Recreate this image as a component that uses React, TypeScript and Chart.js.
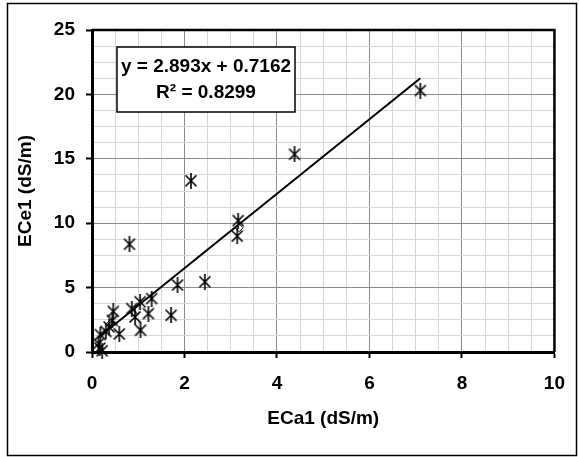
import React, { useEffect, useRef } from 'react';
import { Chart, registerables } from 'chart.js';

Chart.register(...registerables);

// ---- data ----
const ecaValues = [0.14, 0.17, 0.18, 0.22, 0.3, 0.37, 0.44, 0.46, 0.59, 0.81, 0.86, 0.93, 1.04, 1.05, 1.22, 1.29, 1.71, 1.85, 2.14, 2.44, 3.14, 3.16, 4.38, 7.1];
const eceValues = [0.65, 0.3, 1.35, 0.1, 1.6, 1.95, 2.45, 3.15, 1.4, 8.37, 3.37, 2.72, 3.9, 1.69, 2.98, 4.15, 2.85, 5.2, 13.3, 5.45, 9.0, 10.2, 15.35, 20.3];
const diamondX = [0.4, 3.18];
const diamondY = [2.2, 9.65];
const trendSlope = 2.893;
const trendIntercept = 0.7162;
const trendXRange = [0.14, 7.1];
const equationLines = ['y = 2.893x + 0.7162', 'R² = 0.8299'];
const xTitle = 'ECa1 (dS/m)';
const yTitle = 'ECe1 (dS/m)';
const xMin = 0, xMax = 10, xMinorStep = 0.5, xMajorStep = 2;
const yMin = 0, yMax = 25, yMinorStep = 1.25, yMajorStep = 5;

const FONT = '"Liberation Sans", Arial, sans-serif';

function isMajor(v: number, step: number) {
  const r = Math.abs(v / step - Math.round(v / step));
  return r < 1e-6;
}

function makeAsterisk() {
  const c = document.createElement('canvas');
  c.width = 14;
  c.height = 16;
  const g = c.getContext('2d')!;
  g.strokeStyle = '#000';
  g.lineWidth = 1.6;
  g.beginPath();
  g.moveTo(1.5, 2.5); g.lineTo(12.5, 13.5);
  g.moveTo(12.5, 2.5); g.lineTo(1.5, 13.5);
  g.moveTo(7, 0); g.lineTo(7, 16);
  g.stroke();
  return c;
}

const decorPlugin = {
  id: 'decor',
  afterDraw(chart: any) {
    const ctx = chart.ctx as CanvasRenderingContext2D;
    const a = chart.chartArea;
    ctx.save();
    // top & right plot border
    ctx.strokeStyle = '#000';
    ctx.lineWidth = 2.5;
    ctx.beginPath();
    ctx.moveTo(a.left, a.top);
    ctx.lineTo(a.right, a.top);
    ctx.lineTo(a.right, a.bottom);
    ctx.stroke();
    // outer frame
    ctx.lineWidth = 1.5;
    ctx.strokeRect(7.5, 3.5, 569, 452);
    // equation box
    const bx = 117, by = 47, bw = 178, bh = 65;
    ctx.fillStyle = '#fff';
    ctx.fillRect(bx, by, bw, bh);
    ctx.lineWidth = 1.5;
    ctx.strokeRect(bx, by, bw, bh);
    ctx.fillStyle = '#000';
    ctx.font = 'bold 19px ' + FONT;
    ctx.textAlign = 'center';
    ctx.textBaseline = 'middle';
    ctx.fillText(equationLines[0], bx + bw / 2, by + 20);
    ctx.fillText(equationLines[1], bx + bw / 2, by + 46);
    // axis titles
    ctx.fillText(xTitle, (a.left + a.right) / 2, 419);
    ctx.translate(26, (a.top + a.bottom) / 2);
    ctx.rotate(-Math.PI / 2);
    ctx.fillText(yTitle, 0, 0);
    ctx.restore();
  },
};

export default function App() {
  const ref = useRef<HTMLCanvasElement | null>(null);
  useEffect(() => {
    document.body.style.margin = '0';
    const canvas = ref.current!;
    const star = makeAsterisk();
    const chart = new Chart(canvas, {
      type: 'scatter',
      data: {
        datasets: [
          {
            label: 'trend',
            data: trendXRange.map((x) => ({ x, y: trendSlope * x + trendIntercept })),
            showLine: true,
            borderColor: '#000',
            borderWidth: 2,
            pointRadius: 0,
            order: 0,
          } as any,
          {
            label: 'diamond',
            data: diamondX.map((x, i) => ({ x, y: diamondY[i] })),
            pointStyle: 'rectRot',
            pointRadius: 4,
            backgroundColor: '#fff',
            borderColor: '#000',
            borderWidth: 1,
            clip: false,
            order: 2,
          } as any,
          {
            label: 'ECe1',
            data: ecaValues.map((x, i) => ({ x, y: eceValues[i] })),
            pointStyle: star,
            pointRadius: 7,
            clip: false,
            order: 1,
          } as any,
        ],
      },
      options: {
        responsive: false,
        animation: false,
        devicePixelRatio: 1,
        layout: { padding: { left: 0, top: 30, right: 24, bottom: 0 } },
        plugins: { legend: { display: false }, tooltip: { enabled: false } },
        scales: {
          x: {
            type: 'linear',
            min: xMin,
            max: xMax,
            afterFit: (s: any) => { s.height = 105; },
            ticks: {
              stepSize: xMinorStep,
              autoSkip: false,
              maxRotation: 0,
              padding: 14,
              color: '#000',
              font: { family: FONT, size: 19, weight: 'bold' },
              callback: (v: any) => (isMajor(Number(v), xMajorStep) ? String(v) : ''),
            },
            grid: {
              color: (c: any) => (isMajor(c.tick.value, xMajorStep) ? '#8a8a8a' : '#d6d6d6'),
              lineWidth: 1,
              tickLength: 6,
              tickWidth: 2,
              tickColor: (c: any) => (isMajor(c.tick.value, xMajorStep) ? '#000' : 'rgba(0,0,0,0)'),
            },
            border: { display: true, color: '#000', width: 3 },
          },
          y: {
            type: 'linear',
            min: yMin,
            max: yMax,
            afterFit: (s: any) => { s.width = 92; },
            ticks: {
              stepSize: yMinorStep,
              autoSkip: false,
              padding: 11,
              color: '#000',
              font: { family: FONT, size: 19, weight: 'bold' },
              callback: (v: any) => (isMajor(Number(v), yMajorStep) ? String(v) : ''),
            },
            grid: {
              color: (c: any) => (isMajor(c.tick.value, yMajorStep) ? '#8a8a8a' : '#d6d6d6'),
              lineWidth: 1,
              tickLength: 6,
              tickWidth: 2,
              tickColor: (c: any) => (isMajor(c.tick.value, yMajorStep) ? '#000' : 'rgba(0,0,0,0)'),
            },
            border: { display: true, color: '#000', width: 3 },
          },
        },
      },
      plugins: [decorPlugin],
    } as any);
    return () => chart.destroy();
  }, []);
  return <canvas ref={ref} width={579} height={457} style={{ display: 'block' }} />;
}
